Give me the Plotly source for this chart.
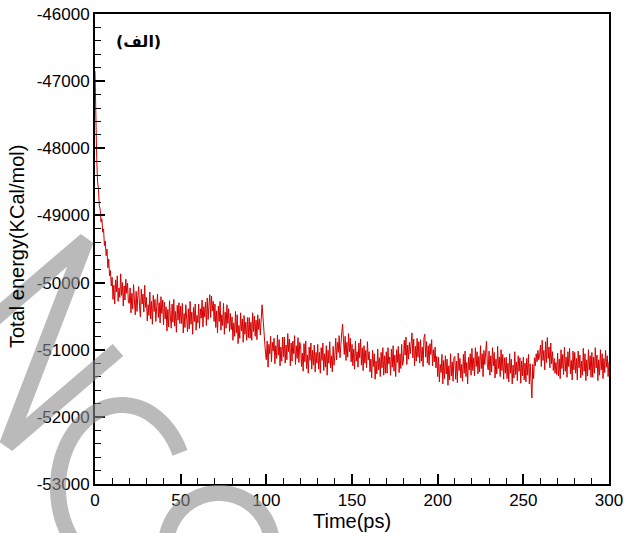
import numpy as np
import plotly.graph_objects as go

# ---------------- data ----------------
energy = [
    -46850, -47700, -48150, -48500, -48600, -48850, -48900, -49100, -49050, -49250,
    -49200, -49450, -49380, -49600, -49500, -49780, -49650, -49900, -49820, -50050,
    -49920, -50250, -50040, -50320, -49960, -50140, -49900, -50280, -50080, -50220,
    -49870, -50190, -50000, -50350, -50050, -50260, -49950, -50160, -50010, -50300,
    -50310, -50080, -50450, -50160, -50390, -50030, -50280, -50480, -50130, -50430,
    -50190, -50060, -50360, -50510, -50100, -50320, -50170, -50440, -50040, -50370,
    -50220, -50570, -50330, -50490, -50140, -50540, -50280, -50620, -50190, -50430,
    -50250, -50580, -50360, -50170, -50520, -50300, -50600, -50210, -50460, -50260,
    -50630, -50290, -50540, -50360, -50720, -50400, -50660, -50270, -50500, -50680,
    -50320, -50590, -50250, -50650, -50430, -50740, -50340, -50560, -50300, -50610,
    -50350, -50610, -50310, -50750, -50460, -50670, -50330, -50560, -50730, -50390,
    -50690, -50280, -50620, -50440, -50770, -50370, -50580, -50320, -50710, -50490,
    -50600, -50320, -50680, -50390, -50530, -50260, -50660, -50360, -50510, -50290,
    -50640, -50230, -50550, -50340, -50180, -50520, -50200, -50420, -50280, -50580,
    -50320, -50670, -50420, -50750, -50350, -50580, -50280, -50710, -50480, -50640,
    -50310, -50770, -50440, -50680, -50330, -50610, -50390, -50730, -50460, -50700,
    -50510, -50860, -50600, -50800, -50430, -50750, -50480, -50910, -50640, -50830,
    -50450, -50720, -50540, -50890, -50490, -50770, -50590, -50860, -50520, -50820,
    -50520, -50830, -50590, -50860, -50450, -50730, -50500, -50800, -50560, -50850,
    -50480, -50700, -50540, -50780, -50440, -50330, -50500, -50750, -50900, -51050,
    -51150, -50870, -51260, -50920, -51060, -50800, -51180, -50890, -51020, -50830,
    -51210, -50940, -51130, -50780, -51080, -50850, -51240, -50960, -51170, -50810,
    -51110, -50810, -51200, -50930, -51150, -50760, -51030, -50840, -51240, -50900,
    -51170, -50870, -51060, -50790, -51220, -50940, -51130, -50820, -51190, -50890,
    -50940, -51250, -51050, -51320, -50910, -51180, -50870, -51280, -51080, -51350,
    -50960, -51160, -50900, -51290, -51010, -51230, -50930, -51330, -51040, -51200,
    -50920, -51290, -51040, -51350, -50970, -51160, -50900, -51310, -51060, -51260,
    -50940, -51380, -51010, -51200, -50880, -51270, -51090, -51330, -50950, -51230,
    -51090, -50830, -51150, -50890, -51040, -50790, -51120, -50850, -50750, -50620,
    -50870, -51070, -50800, -51160, -50890, -51110, -50760, -51030, -50830, -51180,
    -50920, -51240, -50990, -51290, -50870, -51170, -51030, -51260, -50900, -51120,
    -50840, -51230, -50970, -51310, -50940, -51200, -51010, -51270, -50880, -51150,
    -51030, -51330, -51140, -51420, -51010, -51250, -51060, -51440, -51170, -51360,
    -50990, -51300, -51120, -51400, -51040, -51270, -50970, -51380, -51090, -51350,
    -51030, -51350, -50970, -51210, -51110, -51380, -50990, -51260, -50940, -51320,
    -51080, -51400, -51000, -51190, -50950, -51340, -51060, -51280, -50920, -51230,
    -51170, -50860, -51080, -50810, -51220, -50930, -51140, -50890, -51060, -50820,
    -50750, -51120, -50840, -51240, -50950, -51170, -50830, -51110, -50880, -51200,
    -50850, -51170, -50960, -51250, -50820, -50770, -51110, -50880, -51200, -50940,
    -51230, -50910, -51070, -50850, -51240, -51000, -51180, -50960, -51270, -51100,
    -51400, -51110, -51480, -51220, -51340, -51070, -51510, -51160, -51430, -51090,
    -51360, -51140, -51530, -51240, -51450, -51060, -51390, -51180, -51470, -51120,
    -51100, -51440, -51170, -51490, -51050, -51310, -51130, -51420, -51220, -51470,
    -51070, -51350, -51020, -51400, -51190, -51510, -51110, -51300, -51060, -51380,
    -50980, -51310, -51120, -51390, -50970, -51250, -51030, -51360, -51100, -51330,
    -50940, -51280, -51060, -51400, -51010, -51220, -50960, -50870, -51230, -51300,
    -51020, -51380, -51090, -51330, -50970, -51240, -51040, -51420, -51140, -51360,
    -50950, -51280, -51110, -51400, -51000, -51310, -51070, -51440, -51120, -51350,
    -51110, -51430, -51200, -51480, -51060, -51350, -51140, -51510, -51230, -51420,
    -51030, -51370, -51180, -51460, -51090, -51320, -51120, -51500, -51170, -51390,
    -51110, -51450, -51200, -51480, -51130, -51380, -51070, -51510, -51210, -51420,
    -51720, -51220, -51430, -51120, -51240, -51060, -51180, -51010, -51150, -51070,
    -50930, -51250, -50860, -51160, -51010, -51300, -50880, -51190, -50820, -51130,
    -50960, -51270, -50900, -51210, -51030, -51310, -51130, -51350, -51190, -51370,
    -51050, -51390, -51140, -51430, -51000, -51280, -51070, -51370, -50960, -51320,
    -51110, -51410, -51030, -51250, -50980, -51360, -51160, -51450, -51020, -51300,
    -51040, -51350, -51130, -51450, -51020, -51270, -51080, -51420, -51170, -51380,
    -50980, -51320, -51060, -51460, -51150, -51390, -51000, -51300, -51090, -51410,
    -51040, -51410, -51110, -51350, -50970, -51270, -51080, -51460, -51150, -51380,
    -51000, -51300, -51060, -51430, -51130, -51340, -51010, -51260, -51090, -51400,
    -51180,
]
time_ps = [i * 0.5 for i in range(len(energy))]
x_ticks = [0, 50, 100, 150, 200, 250, 300]
x_labels = ["0", "50", "100", "150", "200", "250", "300"]
y_ticks = [-53000, -52000, -51000, -50000, -49000, -48000, -47000, -46000]
y_labels = ["-53000", "-52000", "-51000", "-50000", "-49000", "-48000", "-47000", "-46000"]
x_title = "Time(ps)"
y_title = "Total energy(KCal/mol)"
panel_label = "(الف)"

# ---------------- layout geometry ----------------
W, H = 624, 533
L, R, T, B = 95, 609, 14, 484

def px_to_paper(x, y):
    return (x - L) / (R - L), (B - y) / (B - T)

def path_from_px(points):
    pts = [px_to_paper(x, y) for x, y in points]
    return "M " + " L ".join(f"{a:.5f},{b:.5f}" for a, b in pts)

def arc_px(cx, cy, rx, ry, a0, a1, n=80):
    ang = np.radians(np.linspace(a0, a1, n))
    return list(zip(cx + rx * np.cos(ang), cy - ry * np.sin(ang)))

fig = go.Figure()
fig.add_trace(go.Scatter(
    x=time_ps, y=energy, mode="lines",
    line=dict(color="rgb(214,0,0)", width=1),
    hoverinfo="skip", showlegend=False,
))

font_main = "Liberation Sans, Arial, sans-serif"

axis_common = dict(
    showline=True, linecolor="black", linewidth=2, mirror=True,
    showgrid=False, zeroline=False, automargin=False,
    ticks="inside", ticklen=10, tickwidth=2, tickcolor="black",
    tickfont=dict(family=font_main, size=17, color="black"),
)

fig.update_xaxes(
    range=[0, 300], tickvals=x_ticks, ticktext=x_labels,
    minor=dict(dtick=10, tick0=0, ticks="inside", ticklen=6, tickwidth=1, tickcolor="black"),
    **axis_common,
)
fig.update_yaxes(
    range=[-53000, -46000], tickvals=y_ticks, ticktext=y_labels,
    minor=dict(dtick=200, tick0=-53000, ticks="inside", ticklen=6, tickwidth=1, tickcolor="black"),
    **axis_common,
)

# watermark strokes (decoration, pixel geometry)
wm = dict(color="rgba(140,140,140,0.6)", width=16)
shapes = []
for pts in [
    [(-25, 335), (86, 240), (7, 445), (118, 350)],
    arc_px(122, 488, 64, 83, 25, 240),
    arc_px(219, 546, 53, 53, 0, 180),
]:
    shapes.append(dict(type="path", xref="paper", yref="paper", path=path_from_px(pts),
                       line=wm, layer="above"))

fig.update_layout(
    width=W, height=H,
    margin=dict(l=L, r=W - R, t=T, b=H - B, pad=0, autoexpand=False),
    paper_bgcolor="white", plot_bgcolor="white",
    shapes=shapes,
    annotations=[
        dict(text=x_title, xref="paper", yref="paper", x=0.5, y=(B - 521) / (B - T),
             showarrow=False, xanchor="center", yanchor="middle",
             font=dict(family=font_main, size=20, color="black")),
        dict(text=y_title, xref="paper", yref="paper", x=(17 - L) / (R - L), y=(B - 247) / (B - T),
             showarrow=False, xanchor="center", yanchor="middle", textangle=-90,
             font=dict(family=font_main, size=20, color="black")),
        dict(text="<b>" + panel_label + "</b>", xref="paper", yref="paper",
             x=(138 - L) / (R - L), y=(B - 41) / (B - T),
             showarrow=False, xanchor="center", yanchor="middle",
             font=dict(family="DejaVu Sans", size=16, color="black")),
    ],
)

fig.write_html("out.html")
